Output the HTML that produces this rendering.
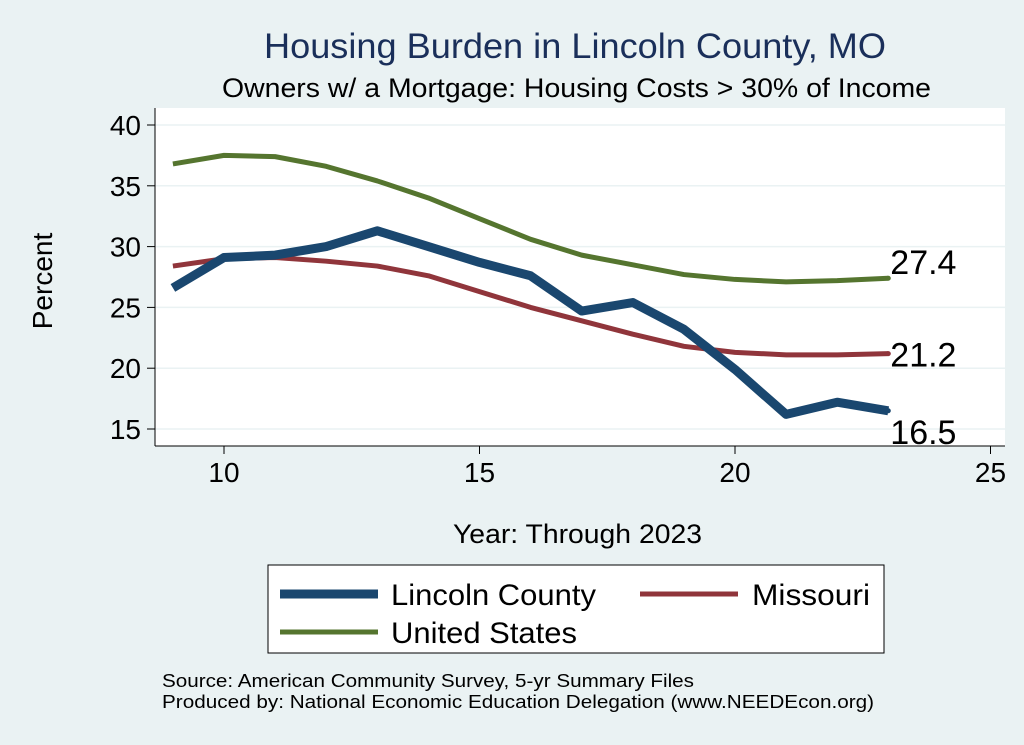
<!DOCTYPE html>
<html><head><meta charset="utf-8"><style>
body{margin:0;background:#eaf2f3;}
svg{display:block;font-family:"Liberation Sans",Arial,sans-serif;}
</style></head><body>
<svg width="1024" height="745" viewBox="0 0 1024 745">
<rect x="0" y="0" width="1024" height="745" fill="#eaf2f3"/>
<text x="264" y="58" font-size="35" textLength="622" lengthAdjust="spacingAndGlyphs" fill="#1a2f5a">Housing Burden in Lincoln County, MO</text>
<text x="222" y="97" font-size="27" textLength="709" lengthAdjust="spacingAndGlyphs" fill="#000">Owners w/ a Mortgage: Housing Costs &gt; 30% of Income</text>
<rect x="155" y="108" width="850" height="338" fill="#fff"/>
<g id="grid"></g>
<g id="axes"></g>
<g id="series"></g>
<text x="52" y="281" text-anchor="middle" font-size="28" transform="rotate(-90 52 281)">Percent</text>
<text x="453" y="543" font-size="27" textLength="249" lengthAdjust="spacingAndGlyphs">Year: Through 2023</text>
<g>
<rect x="268" y="565" width="616" height="88" fill="#fff" stroke="#000" stroke-width="1"/>
<g><line x1="280" y1="594" x2="378" y2="594" stroke="#1a476f" stroke-width="9"/><text x="391" y="605" font-size="30" textLength="205" lengthAdjust="spacingAndGlyphs">Lincoln County</text></g>
<g><line x1="640" y1="594" x2="738" y2="594" stroke="#90353b" stroke-width="5"/><text x="752" y="605" font-size="30" textLength="118" lengthAdjust="spacingAndGlyphs">Missouri</text></g>
<g><line x1="280" y1="632" x2="378" y2="632" stroke="#55752f" stroke-width="5"/><text x="391" y="643" font-size="30" textLength="186" lengthAdjust="spacingAndGlyphs">United States</text></g>
</g>
<text x="162" y="687" font-size="18" textLength="532" lengthAdjust="spacingAndGlyphs">Source: American Community Survey, 5-yr Summary Files</text>
<text x="162" y="708" font-size="18" textLength="712" lengthAdjust="spacingAndGlyphs">Produced by: National Economic Education Delegation (www.NEEDEcon.org)</text>
</svg>
<script>
const years=[9,10,11,12,13,14,15,16,17,18,19,20,21,22,23];
const lincoln=[26.6,29.1,29.3,30.0,31.3,30.0,28.7,27.6,24.7,25.4,23.2,19.9,16.2,17.2,16.5];
const missouri=[28.4,29.0,29.1,28.8,28.4,27.6,26.3,25.0,23.9,22.8,21.8,21.3,21.1,21.1,21.2];
const us=[36.8,37.5,37.4,36.6,35.4,34.0,32.3,30.6,29.3,28.5,27.7,27.3,27.1,27.2,27.4];
const xTicks=[10,15,20,25];
const yTicks=[15,20,25,30,35,40];
const NS="http://www.w3.org/2000/svg";
const xs=v=>224+(v-10)*51.1;
const ys=v=>429-(v-15)*12.16;
function mk(tag,attrs,parent,text){const e=document.createElementNS(NS,tag);for(const k in attrs)e.setAttribute(k,attrs[k]);if(text!==undefined)e.textContent=text;document.getElementById(parent).appendChild(e);return e;}
yTicks.forEach(t=>{
 const g=mk('line',{x1:155,x2:1005,y1:ys(t),y2:ys(t),stroke:'#eaf2f3','stroke-width':1.5},'grid');
 
 
 const tk=mk('line',{x1:147,x2:155,y1:ys(t),y2:ys(t),stroke:'#000'},'axes');
 
 
 const lb=mk('text',{x:141,y:ys(t)+10,'text-anchor':'end','font-size':28},'axes',t);
 
 
});
xTicks.forEach(t=>{
 const tk=mk('line',{x1:xs(t),x2:xs(t),y1:446,y2:454,stroke:'#000'},'axes');
 
 
 const lb=mk('text',{x:xs(t),y:482,'text-anchor':'middle','font-size':28},'axes',t);
 
 
});
const ya=mk('line',{x1:155,x2:155,y1:108,y2:446,stroke:'#000'},'axes');


const xa=mk('line',{x1:155,x2:1005,y1:446,y2:446,stroke:'#000'},'axes');


function series(vals,color,w,name,dy){
 const d=vals.map((v,i)=>(i?'L':'M')+xs(years[i])+' '+ys(v)).join(' ');
 const p=mk('path',{d:d,fill:'none',stroke:color,'stroke-width':w,'stroke-linejoin':'round'},'series');
 
 
 const last=vals[vals.length-1],lx=xs(years[years.length-1]);
 const c=mk('circle',{cx:lx,cy:ys(last),r:2.5,fill:color},'series');
 
 
 const t=mk('text',{x:lx+2,y:ys(last)+dy,'font-size':34},'series',last.toFixed(1));
 
 
}
series(us,'#55752f',5,'us',-4);
series(missouri,'#90353b',5,'missouri',13);
series(lincoln,'#1a476f',9,'lincoln',33);
</script>
</body></html>
